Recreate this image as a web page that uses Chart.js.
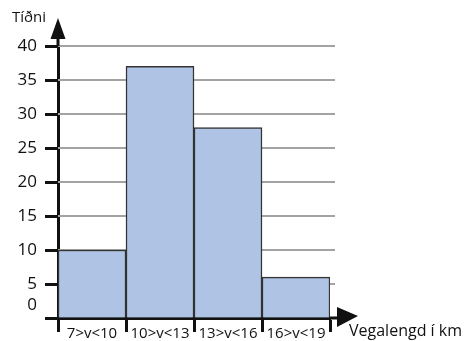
<!DOCTYPE html>
<html>
<head>
<meta charset="utf-8">
<script src="https://cdn.jsdelivr.net/npm/chart.js@4/dist/chart.umd.min.js"></script>
<style>
html,body{margin:0;padding:0;background:#fff;}
canvas{display:block;}
</style>
</head>
<body>
<canvas id="c" width="468" height="341"></canvas>
<script>
const categories = ['7>v<10', '10>v<13', '13>v<16', '16>v<19'];
const frequencies = [10, 37, 28, 6];
const yAxisTitle = 'Tíðni';
const xAxisTitle = 'Vegalengd í km';
const yMax = 40;
const yStep = 5;

const FONT = '"Open Sans", "Noto Sans", sans-serif';

const decor = {
  id: 'decor',
  beforeDatasetsDraw(chart) {
    const {ctx, chartArea: a, scales: {y}} = chart;
    ctx.save();
    ctx.strokeStyle = '#a3a3a3';
    ctx.lineWidth = 2;
    y.ticks.forEach(t => {
      if (t.value === 0) return;
      const py = Math.round(y.getPixelForValue(t.value));
      ctx.beginPath();
      ctx.moveTo(a.left, py);
      ctx.lineTo(a.right + 5, py);
      ctx.stroke();
    });
    ctx.restore();
  },
  afterDraw(chart) {
    const {ctx, chartArea: a, scales: {x, y}} = chart;
    const ax = x.left;
    const ay = y.getPixelForValue(0);
    ctx.save();
    ctx.strokeStyle = '#111';
    ctx.fillStyle = '#111';
    ctx.lineWidth = 3;
    ctx.beginPath();
    ctx.moveTo(ax, a.top);
    ctx.lineTo(ax, a.top - 8);
    ctx.stroke();
    ctx.beginPath();
    ctx.moveTo(ax, a.top - 28);
    ctx.lineTo(ax - 7.5, a.top - 7);
    ctx.lineTo(ax + 7.5, a.top - 7);
    ctx.closePath();
    ctx.fill();
    ctx.beginPath();
    ctx.moveTo(a.right, ay);
    ctx.lineTo(a.right + 10, ay);
    ctx.stroke();
    ctx.beginPath();
    ctx.moveTo(a.right + 28, ay - 2);
    ctx.lineTo(a.right + 7, ay - 11);
    ctx.lineTo(a.right + 7, ay + 9);
    ctx.closePath();
    ctx.fill();
    ctx.fillStyle = '#111';
    ctx.font = '500 15px ' + FONT;
    ctx.textBaseline = 'middle';
    ctx.textAlign = 'left';
    ctx.fillText(yAxisTitle, 12, 18);
    ctx.font = '500 16px ' + FONT;
    ctx.fillText(xAxisTitle, 349, 331);
    ctx.restore();
  }
};

new Chart(document.getElementById('c'), {
  type: 'bar',
  data: {
    labels: categories,
    datasets: [{
      data: frequencies,
      backgroundColor: '#afc4e5',
      borderColor: '#333',
      borderWidth: 1.5,
      barPercentage: 1,
      categoryPercentage: 1
    }]
  },
  options: {
    responsive: false,
    devicePixelRatio: 1,
    animation: false,
    events: [],
    layout: {padding: {top: 46, right: 138, left: 0, bottom: 0}},
    plugins: {legend: {display: false}, tooltip: {enabled: false}},
    scales: {
      x: {
        offset: true,
        afterFit: s => { s.height = 23; s.paddingLeft = 0; s.paddingRight = 0; },
        border: {display: true, color: '#111', width: 3},
        grid: {offset: true, drawOnChartArea: false, tickLength: 14, tickWidth: 3, tickColor: '#111'},
        ticks: {color: '#111', padding: -7, font: {family: FONT, size: 15, weight: '500'}, maxRotation: 0, autoSkip: false}
      },
      y: {
        min: 0,
        max: yMax,
        afterFit: s => { s.width = 58; s.paddingTop = 0; s.paddingBottom = 0; },
        border: {display: true, color: '#111', width: 3},
        grid: {drawOnChartArea: false, tickLength: 13, tickWidth: 3, tickColor: '#111'},
        ticks: {
          stepSize: yStep,
          autoSkip: false,
          color: '#111',
          padding: 8,
          callback: v => v === 0 ? ['0', ''] : String(v),
          font: c => ({family: FONT, size: 17, weight: '500', lineHeight: (c.tick && c.tick.value === 0) ? 1.55 : 1.2})
        }
      }
    }
  },
  plugins: [decor]
});
</script>
</body>
</html>
